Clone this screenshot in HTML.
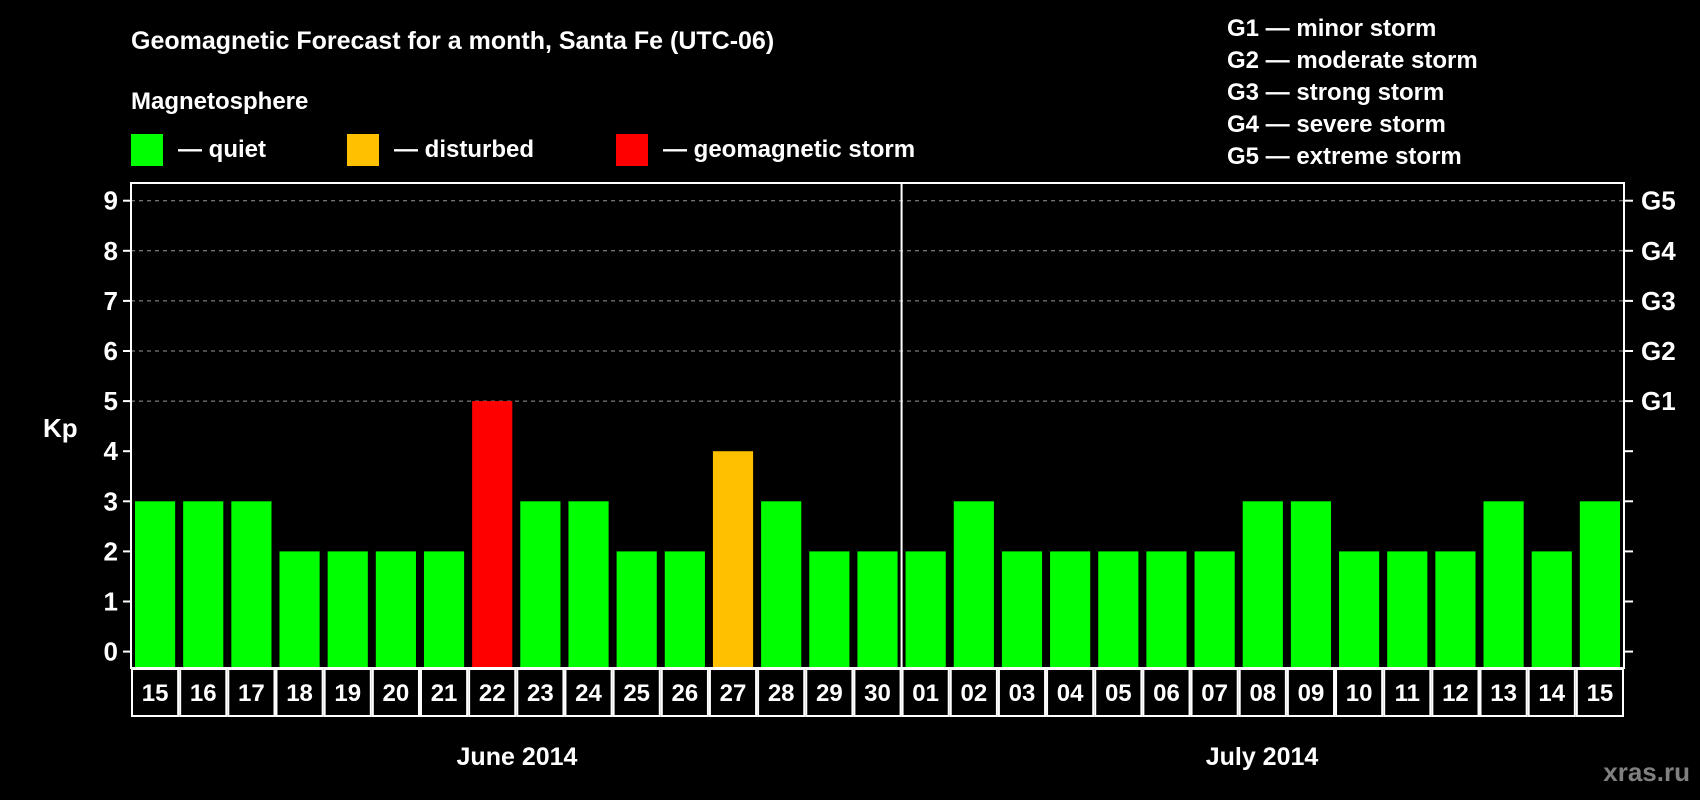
<!DOCTYPE html>
<html><head><meta charset="utf-8"><style>
html,body{margin:0;padding:0;background:#000;width:1700px;height:800px;overflow:hidden}
svg text{font-family:"Liberation Sans",Arial,sans-serif;font-weight:bold;fill:#fff}
</style></head><body>
<svg id="chart" width="1700" height="800" viewBox="0 0 1700 800">
<text x="131" y="49" font-size="25">Geomagnetic Forecast for a month, Santa Fe (UTC-06)</text>
<text x="131" y="109" font-size="24">Magnetosphere</text>
<g><rect x="131" y="134" width="32" height="32" fill="#00ff00"/><text x="178" y="157" font-size="24">— quiet</text></g>
<g><rect x="347" y="134" width="32" height="32" fill="#ffc000"/><text x="394" y="157" font-size="24">— disturbed</text></g>
<g><rect x="616" y="134" width="32" height="32" fill="#ff0000"/><text x="663" y="157" font-size="24">— geomagnetic storm</text></g>
<g font-size="24">
<text x="1227" y="36">G1 — minor storm</text>
<text x="1227" y="68">G2 — moderate storm</text>
<text x="1227" y="100">G3 — strong storm</text>
<text x="1227" y="132">G4 — severe storm</text>
<text x="1227" y="164">G5 — extreme storm</text>
</g>
<text x="43" y="437" font-size="26">Kp</text>
<g id="plot"></g>
<text x="517" y="765" font-size="25" text-anchor="middle">June 2014</text>
<text x="1262" y="765" font-size="25" text-anchor="middle">July 2014</text>
<text x="1690" y="781" font-size="26" text-anchor="end" style="fill:#808080">xras.ru</text>
</svg>
<script>
const days = ["15","16","17","18","19","20","21","22","23","24","25","26","27","28","29","30","01","02","03","04","05","06","07","08","09","10","11","12","13","14","15"];
const kpValues = [3,3,3,2,2,2,2,5,3,3,2,2,4,3,2,2,2,3,2,2,2,2,2,3,3,2,2,2,3,2,3];
const yTicks = [0,1,2,3,4,5,6,7,8,9];
const gLabels = ["G1","G2","G3","G4","G5"];
const gLevels = [5,6,7,8,9];
const monthSplitIndex = 16;

const NS="http://www.w3.org/2000/svg";
const L=131,R=1624,T=183,B=668,Y0=651.6,UNIT=50.1;
const pitch=(R-L)/days.length;
const y=v=>Y0-v*UNIT;
const x=i=>L+i*pitch;
const g=document.getElementById('plot');
function mk(tag,attrs){const e=document.createElementNS(NS,tag);for(const k in attrs)e.setAttribute(k,attrs[k]);g.appendChild(e);return e;}
gLevels.forEach((v)=>{
  const e=mk('line',{x1:L,x2:R,y1:y(v),y2:y(v),stroke:'#999','stroke-width':1,'stroke-dasharray':'4,4'});
  
  
});
kpValues.forEach((v,i)=>{
  const c=v>=5?'#ff0000':(v>=4?'#ffc000':'#00ff00');
  const e=mk('rect',{x:x(i)+4,y:y(v),width:pitch-8,height:B-y(v),fill:c});
  
  
  const b=mk('rect',{x:x(i)+1,y:B+1,width:pitch-2,height:47,fill:'none',stroke:'#fff','stroke-width':2});
  
  
  const t=mk('text',{x:x(i)+pitch/2,y:B+33,'font-size':24,'text-anchor':'middle'});
  t.textContent=days[i];
  
  
});
yTicks.forEach(v=>{
  const a=mk('line',{x1:L-8,x2:L,y1:y(v),y2:y(v),stroke:'#fff','stroke-width':2});
  
  
  const b=mk('line',{x1:R,x2:R+9,y1:y(v),y2:y(v),stroke:'#fff','stroke-width':2});
  
  
  const t=mk('text',{x:118,y:y(v)+9,'font-size':26,'text-anchor':'end'});
  t.textContent=v;
  
  
});
gLevels.forEach((v,i)=>{
  const t=mk('text',{x:1641,y:y(v)+9,'font-size':26});
  t.textContent=gLabels[i];
  
  
});
const frame=mk('rect',{x:L,y:T,width:R-L,height:B-T,fill:'none',stroke:'#fff','stroke-width':2});


const sep=mk('line',{x1:x(monthSplitIndex),x2:x(monthSplitIndex),y1:T,y2:B,stroke:'#fff','stroke-width':2});


</script>
</body></html>
